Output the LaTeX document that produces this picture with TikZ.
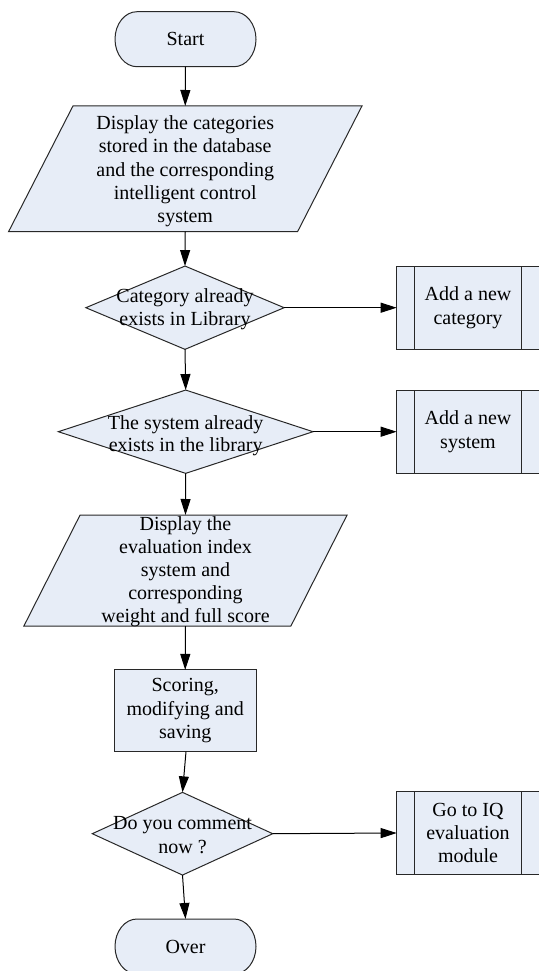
\documentclass[tikz,border=0pt]{standalone}
\usepackage{fontspec}
\setmainfont{Liberation Serif}
\usetikzlibrary{arrows.meta,calc}
\definecolor{fillc}{RGB}{231,237,247}
\definecolor{linec}{RGB}{40,40,40}
\begin{document}
\begin{tikzpicture}[x=1pt,y=-1pt,
  shp/.style={draw=linec,fill=fillc,line width=1pt,line join=miter},
  edge/.style={draw=linec,line width=1pt},
  frame/.style={inner sep=0pt,outer sep=0pt,draw=none},
  txt/.style={inner sep=0pt,outer sep=0pt,align=center,font=\fontsize{20}{23.3}\selectfont},
  arr/.style={draw=black,line width=1pt,-{Triangle[length=16pt,width=10pt]}}]
\useasboundingbox (0,0) rectangle (538,971);
\fill[white] (0,0) rectangle (538,971);

% Start
\node[frame,minimum width=141pt,minimum height=55pt] (start) at (185.5,39.2) {};
\path[shp] ($(start.north west)+(22,0)$) -- ($(start.north east)-(22,0)$)
  arc[start angle=-90,end angle=90,x radius=22,y radius=27.5]
  -- ($(start.south west)+(22,0)$)
  arc[start angle=90,end angle=270,x radius=22,y radius=27.5] -- cycle;
\node[txt] (startt) at (start) {Start};

% Parallelogram 1
\node[frame,minimum width=289pt,minimum height=125.7pt] (p1) at (185.25,168.85) {};
\path[shp] ($(p1.north west)+(32.2,0)$) -- ($(p1.north east)+(32.2,0)$)
  -- ($(p1.south east)-(32.2,0)$) -- ($(p1.south west)-(32.2,0)$) -- cycle;
\node[txt] (p1t) at ($(p1)+(0,2.5)$) {Display the categories\\stored in the database\\and the corresponding\\intelligent control\\system};

% Diamond 1
\node[frame,minimum width=198.3pt,minimum height=83.3pt] (d1) at (185,307.7) {};
\path[shp] (d1.west) -- (d1.north) -- (d1.east) -- (d1.south) -- cycle;
\node[txt,font=\fontsize{20}{23}\selectfont] (d1t) at ($(d1)+(0,2)$) {Category already\\exists in Library};

% Box 1
\node[shp,txt,minimum width=142.6pt,minimum height=83.3pt] (b1) at (468,307.7) {Add a new\\category};
\draw[edge] ($(b1.north west)+(17.6,0)$) -- ($(b1.south west)+(17.6,0)$);
\draw[edge] ($(b1.north east)-(17.6,0)$) -- ($(b1.south east)-(17.6,0)$);

% Diamond 2
\node[frame,minimum width=254.7pt,minimum height=83.3pt] (d2) at (185.7,431.7) {};
\path[shp] (d2.west) -- (d2.north) -- (d2.east) -- (d2.south) -- cycle;
\node[txt,font=\fontsize{20}{22}\selectfont] (d2t) at ($(d2)+(0,4)$) {The system already\\exists in the library};

% Box 2
\node[shp,txt,minimum width=142.6pt,minimum height=83.3pt] (b2) at (468,431.7) {Add a new\\system};
\draw[edge] ($(b2.north west)+(17.6,0)$) -- ($(b2.south west)+(17.6,0)$);
\draw[edge] ($(b2.north east)-(17.6,0)$) -- ($(b2.south east)-(17.6,0)$);

% Parallelogram 2
\node[frame,minimum width=267pt,minimum height=111pt] (p2) at (185.5,570.5) {};
\path[shp] ($(p2.north west)+(28.1,0)$) -- ($(p2.north east)+(28.1,0)$)
  -- ($(p2.south east)-(28.1,0)$) -- ($(p2.south west)-(28.1,0)$) -- cycle;
\node[txt,font=\fontsize{20}{23}\selectfont] (p2t) at ($(p2)+(0,1.5)$) {Display the\\evaluation index\\system and\\corresponding\\weight and full score};

% Scoring box
\node[shp,txt,minimum width=141.7pt,minimum height=81.7pt] (sc) at (185.2,710.8) {Scoring,\\modifying and\\saving};

% Diamond 3
\node[frame,minimum width=180.4pt,minimum height=82.7pt] (d3) at (182.5,833.7) {};
\path[shp] (d3.west) -- (d3.north) -- (d3.east) -- (d3.south) -- cycle;
\node[txt] (d3t) at ($(d3)+(0,1.5)$) {Do you comment\\now ?};

% Box 3
\node[shp,txt,minimum width=142.6pt,minimum height=82.6pt] (b3) at (468,833) {Go to IQ\\evaluation\\module};
\draw[edge] ($(b3.north west)+(17.6,0)$) -- ($(b3.south west)+(17.6,0)$);
\draw[edge] ($(b3.north east)-(17.6,0)$) -- ($(b3.south east)-(17.6,0)$);

% Over
\node[frame,minimum width=141pt,minimum height=55pt] (over) at (185.5,946.5) {};
\path[shp] ($(over.north west)+(22,0)$) -- ($(over.north east)-(22,0)$)
  arc[start angle=-90,end angle=90,x radius=22,y radius=27.5]
  -- ($(over.south west)+(22,0)$)
  arc[start angle=90,end angle=270,x radius=22,y radius=27.5] -- cycle;
\node[txt] (overt) at (over) {Over};

% Connectors
\draw[arr] (start.south) -- (p1.north);
\draw[arr] (p1.south) -- (d1.north);
\draw[arr] (d1.east) -- (b1.west);
\draw[arr] (d1.south) -- (d2.north);
\draw[arr] (d2.east) -- (b2.west);
\draw[arr] (d2.south) -- (p2.north);
\draw[arr] (p2.south) -- (sc.north);
\draw[arr] ($(sc.south)+(0.8,0)$) -- (d3.north);
\draw[arr] (d3.south) -- (over.north);
\draw[arr] (d3.east) -- (b3.west);
\end{tikzpicture}
\end{document}
